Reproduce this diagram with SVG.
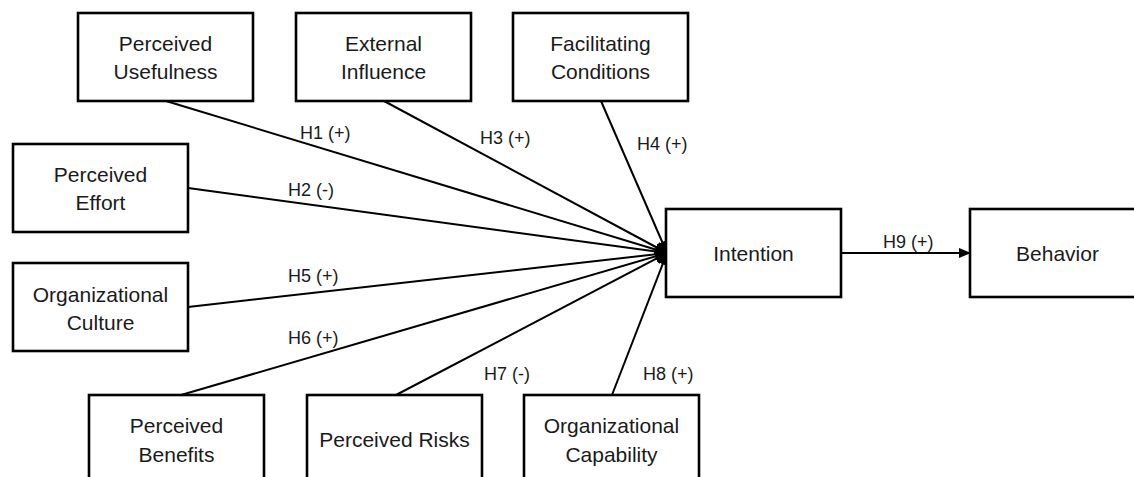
<svg xmlns="http://www.w3.org/2000/svg" width="1134" height="477" viewBox="0 0 1134 477">
<style>
.box{fill:#fff;stroke:#000;stroke-width:2.6}
.t{font-family:"Liberation Sans",Arial,sans-serif;font-size:21px;fill:#1a1a1a;text-anchor:middle}
.lbl{font-family:"Liberation Sans",Arial,sans-serif;font-size:18px;fill:#1a1a1a}
.c{stroke:#000;stroke-width:2;fill:none;marker-end:url(#ah)}
.c2{stroke:#000;stroke-width:2;fill:none;marker-end:url(#ah2)}
</style>
<defs>
<marker id="ah" markerUnits="userSpaceOnUse" markerWidth="13" markerHeight="12" refX="12" refY="6" orient="auto" viewBox="0 0 13 12">
<path d="M0,0 L13,6 L0,12 z" fill="#000"/>
</marker>
<marker id="ah2" markerUnits="userSpaceOnUse" markerWidth="12" markerHeight="10" refX="11" refY="5" orient="auto" viewBox="0 0 12 10">
<path d="M0,0 L12,5 L0,10 z" fill="#000"/>
</marker>
</defs>
<rect width="1134" height="477" fill="#fff"/>
<g id="connectors">
<line class="c" x1="166" y1="101" x2="667" y2="253"/>
<line class="c" x1="188" y1="188" x2="667" y2="253"/>
<line class="c" x1="384" y1="101" x2="667" y2="253"/>
<line class="c" x1="601" y1="101" x2="667" y2="253"/>
<line class="c" x1="188" y1="307" x2="667" y2="253"/>
<line class="c" x1="181" y1="395" x2="667" y2="253"/>
<line class="c" x1="396" y1="395" x2="667" y2="253"/>
<line class="c" x1="612" y1="395" x2="667" y2="253"/>
<line class="c2" x1="841" y1="253" x2="970" y2="253"/>
<text class="lbl" x="300" y="139">H1 (+)</text>
<text class="lbl" x="288" y="196">H2 (-)</text>
<text class="lbl" x="480" y="144">H3 (+)</text>
<text class="lbl" x="637" y="150">H4 (+)</text>
<text class="lbl" x="288" y="282">H5 (+)</text>
<text class="lbl" x="288" y="344">H6 (+)</text>
<text class="lbl" x="484" y="380">H7 (-)</text>
<text class="lbl" x="643" y="380">H8 (+)</text>
<text class="lbl" x="883" y="248">H9 (+)</text>
</g>
<g id="perceived-usefulness"><rect class="box" x="78" y="13" width="175" height="88"/><text class="t" x="165.5" y="51">Perceived</text><text class="t" x="165.5" y="79">Usefulness</text></g>
<g id="external-influence"><rect class="box" x="296" y="13" width="175" height="88"/><text class="t" x="383.5" y="51">External</text><text class="t" x="383.5" y="79">Influence</text></g>
<g id="facilitating-conditions"><rect class="box" x="513" y="13" width="175" height="88"/><text class="t" x="600.5" y="51">Facilitating</text><text class="t" x="600.5" y="79">Conditions</text></g>
<g id="perceived-effort"><rect class="box" x="13" y="144" width="175" height="88"/><text class="t" x="100.5" y="182">Perceived</text><text class="t" x="100.5" y="210">Effort</text></g>
<g id="organizational-culture"><rect class="box" x="13" y="263" width="175" height="88"/><text class="t" x="100.5" y="302">Organizational</text><text class="t" x="100.5" y="330">Culture</text></g>
<g id="perceived-benefits"><rect class="box" x="89" y="395" width="175" height="88"/><text class="t" x="176.5" y="433">Perceived</text><text class="t" x="176.5" y="462">Benefits</text></g>
<g id="perceived-risks"><rect class="box" x="307" y="395" width="175" height="88"/><text class="t" x="394.5" y="447">Perceived Risks</text></g>
<g id="organizational-capability"><rect class="box" x="524" y="395" width="175" height="88"/><text class="t" x="611.5" y="433">Organizational</text><text class="t" x="611.5" y="462">Capability</text></g>
<g id="intention"><rect class="box" x="666" y="209" width="175" height="88"/><text class="t" x="753.5" y="261">Intention</text></g>
<g id="behavior"><rect class="box" x="970" y="209" width="175" height="88"/><text class="t" x="1057.5" y="261">Behavior</text></g>
</svg>
